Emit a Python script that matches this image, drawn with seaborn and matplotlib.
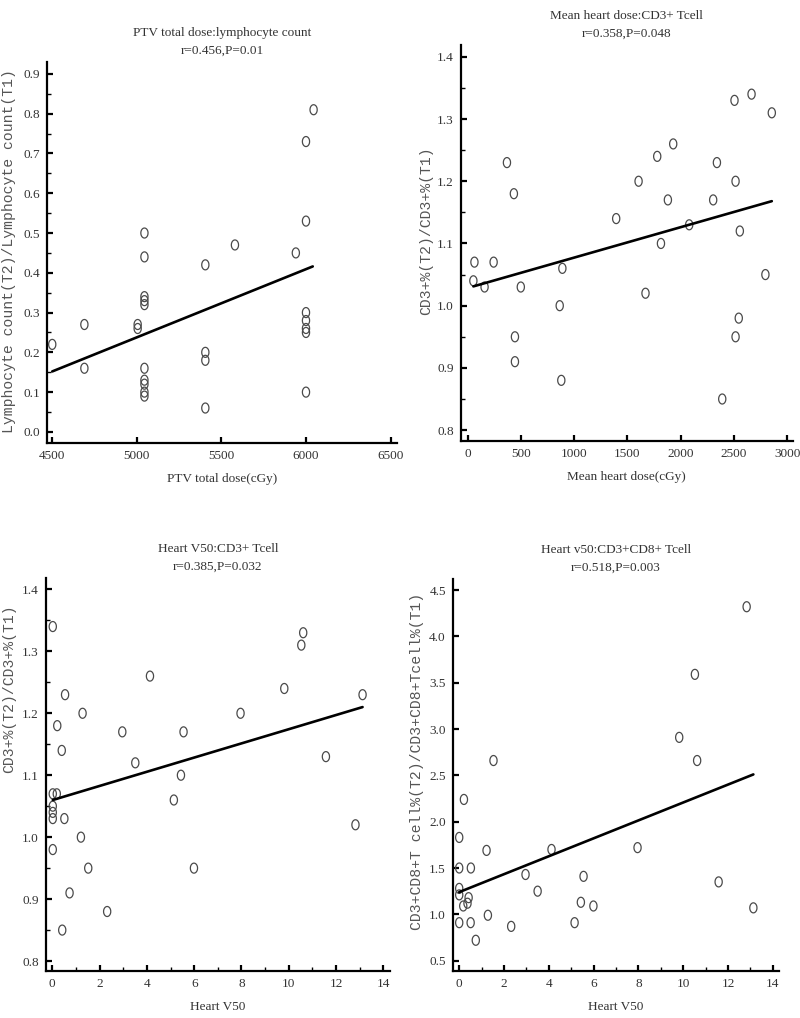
import numpy as np
import matplotlib
matplotlib.use('Agg')
import matplotlib.pyplot as plt
from matplotlib.ticker import MultipleLocator
import seaborn as sns

# ── Data ──────────────────────────────────────────────────────────────────────

# A. PTV total dose vs lymphocyte count ratio
ptv_dose  = [4500, 4690, 4690, 5005, 5005,
             5045, 5045, 5045, 5045, 5045, 5045, 5045, 5045, 5045, 5045,
             5405, 5405, 5405, 5405, 5580, 5940,
             6000, 6000, 6000, 6000, 6000, 6000, 6000, 6045]
ptv_lymph = [0.22, 0.27, 0.16, 0.27, 0.26,
             0.50, 0.44, 0.34, 0.33, 0.32, 0.16, 0.13, 0.12, 0.10, 0.09,
             0.42, 0.20, 0.18, 0.06, 0.47, 0.45,
             0.73, 0.53, 0.30, 0.28, 0.26, 0.25, 0.10, 0.81]
ptv_fit_x = [4500, 6040]
ptv_fit_y = [0.152, 0.416]

# B. Mean heart dose vs CD3+ ratio
mhd_dose = [370, 435, 1395, 1605, 1780, 1880, 1930, 1815, 2080, 2305, 2340,
            2505, 2515, 2555, 2665, 2855, 65, 55, 160, 245, 500, 890, 865,
            445, 445, 880, 1670, 2390, 2515, 2545, 2795]
mhd_cd3  = [1.23, 1.18, 1.14, 1.20, 1.24, 1.17, 1.26, 1.10, 1.13, 1.17, 1.23,
            1.33, 1.20, 1.12, 1.34, 1.31, 1.07, 1.04, 1.03, 1.07, 1.03, 1.06,
            1.00, 0.95, 0.91, 0.88, 1.02, 0.85, 0.95, 0.98, 1.05]
mhd_fit_x = [55, 2855]
mhd_fit_y = [1.031, 1.168]

# C. Heart V50 vs CD3+ ratio
v50_a     = [0.02, 0.54, 0.21, 0.40, 1.28, 4.13, 2.96, 5.55, 7.96, 9.81, 10.53,
             10.61, 13.12, 11.57, 3.51, 5.44, 5.14, 0.02, 0.19, 0.02, 0.02,
             0.02, 0.51, 0.02, 1.21, 1.52, 5.99, 0.73, 2.32, 0.42, 12.82]
v50_cd3   = [1.34, 1.23, 1.18, 1.14, 1.20, 1.26, 1.17, 1.17, 1.20, 1.24, 1.31,
             1.33, 1.23, 1.13, 1.12, 1.10, 1.06, 1.07, 1.07, 1.05, 1.04,
             1.03, 1.03, 0.98, 1.00, 0.95, 0.95, 0.91, 0.88, 0.85, 1.02]
v50_cd3_fit_x = [0.02, 13.12]
v50_cd3_fit_y = [1.06, 1.21]

# D. Heart V50 vs CD3+CD8+ ratio
v50_b     = [12.83, 10.52, 9.82, 10.62, 1.53, 0.21, 0.0, 1.22, 4.12, 7.96,
             0.0, 0.52, 2.96, 5.55, 11.58, 0.0, 0.0, 3.50, 0.42, 0.37,
             0.18, 5.43, 5.99, 13.13, 1.28, 0.0, 0.51, 5.15, 2.32, 0.74]
v50_cd8   = [4.32, 3.59, 2.91, 2.66, 2.66, 2.24, 1.83, 1.69, 1.70, 1.72,
             1.50, 1.50, 1.43, 1.41, 1.35, 1.28, 1.21, 1.25, 1.18, 1.12,
             1.09, 1.13, 1.09, 1.07, 0.99, 0.91, 0.91, 0.91, 0.87, 0.72]
v50_cd8_fit_x = [0.0, 13.13]
v50_cd8_fit_y = [1.24, 2.51]

# ── Style ─────────────────────────────────────────────────────────────────────

sns.set_theme(style='ticks')
plt.rcParams['font.family'] = ['Liberation Serif', 'DejaVu Serif']

TXT   = '#333333'
PTS   = '#4a4a4a'
t     = np.linspace(0, 2 * np.pi, 41)
OVAL  = np.column_stack([0.72 * np.cos(t), np.sin(t)])   # tall "O" marker

fig = plt.figure(figsize=(8, 10.18), dpi=100)

panels = [
    dict(rect=[0.05875, 0.5648, 0.4375, 0.3743],
         x=ptv_dose, y=ptv_lymph, fx=ptv_fit_x, fy=ptv_fit_y,
         xlim=(4469, 6538), ylim=(-0.028, 0.93),
         xmaj=500, xmin=None, ymaj=0.1, ymin=0.05,
         title='PTV total dose:lymphocyte count\nr=0.456,P=0.01',
         xlabel='PTV total dose(cGy)',
         ylabel='Lymphocyte count(T2)/Lymphocyte count(T1)',
         ylab_xy=(-0.088, 0.505)),
    dict(rect=[0.576, 0.5671, 0.415, 0.3887],
         x=mhd_dose, y=mhd_cd3, fx=mhd_fit_x, fy=mhd_fit_y,
         xlim=(-63, 3052), ylim=(0.783, 1.419),
         xmaj=500, xmin=None, ymaj=0.1, ymin=0.05,
         title='Mean heart dose:CD3+ Tcell\nr=0.358,P=0.048',
         xlabel='Mean heart dose(cGy)',
         ylabel='CD3+%(T2)/CD3+%(T1)',
         ylab_xy=(-0.084, 0.53)),
    dict(rect=[0.0571, 0.0462, 0.4304, 0.3858],
         x=v50_a, y=v50_cd3, fx=v50_cd3_fit_x, fy=v50_cd3_fit_y,
         xlim=(-0.28, 14.28), ylim=(0.784, 1.418),
         xmaj=2, xmin=1, ymaj=0.1, ymin=0.05,
         title='Heart V50:CD3+ Tcell\nr=0.385,P=0.032',
         xlabel='Heart V50',
         ylabel='CD3+%(T2)/CD3+%(T1)',
         ylab_xy=(-0.086, 0.72)),
    dict(rect=[0.5659, 0.0465, 0.4083, 0.3848],
         x=v50_b, y=v50_cd8, fx=v50_cd8_fit_x, fy=v50_cd8_fit_y,
         xlim=(-0.29, 14.29), ylim=(0.392, 4.62),
         xmaj=2, xmin=1, ymaj=0.5, ymin=None,
         title='Heart v50:CD3+CD8+ Tcell\nr=0.518,P=0.003',
         xlabel='Heart V50',
         ylabel='CD3+CD8+T cell%(T2)/CD3+CD8+Tcell%(T1)',
         ylab_xy=(-0.088, 0.535)),
]

for p in panels:
    ax = fig.add_axes(p['rect'])

    sns.scatterplot(x=p['x'], y=p['y'], ax=ax, marker=OVAL, s=52,
                    facecolors='none', edgecolor=PTS, linewidth=0.9,
                    legend=False)
    sns.lineplot(x=p['fx'], y=p['fy'], ax=ax, color='black',
                 linewidth=1.9, legend=False)

    ax.set_xlim(*p['xlim'])
    ax.set_ylim(*p['ylim'])
    ax.xaxis.set_major_locator(MultipleLocator(p['xmaj']))
    ax.yaxis.set_major_locator(MultipleLocator(p['ymaj']))
    if p['xmin']:
        ax.xaxis.set_minor_locator(MultipleLocator(p['xmin']))
    if p['ymin']:
        ax.yaxis.set_minor_locator(MultipleLocator(p['ymin']))
    ax.yaxis.set_major_formatter(lambda v, pos: f'{v:.1f}')
    ax.xaxis.set_major_formatter(lambda v, pos: f'{v:g}')

    sns.despine(ax=ax)
    for s in ('left', 'bottom'):
        ax.spines[s].set_linewidth(1.6)
        ax.spines[s].set_color('black')

    ax.tick_params(which='major', direction='in', length=4.5, width=1.6,
                   color='black', labelsize=9.5, labelcolor=TXT, pad=5)
    ax.tick_params(which='minor', direction='in', length=3, width=1.0,
                   color='black')
    ax.tick_params(axis='x', which='both', top=False)
    ax.tick_params(axis='y', which='both', right=False)

    ax.set_title(p['title'], fontsize=9.5, color=TXT, pad=6,
                 linespacing=1.6)
    ax.set_xlabel(p['xlabel'], fontsize=9.5, color=TXT, labelpad=8)
    ax.set_ylabel(p['ylabel'], fontsize=10.6, color='#555555',
                  family='Liberation Mono')
    ax.yaxis.set_label_coords(*p['ylab_xy'])
    ax.grid(False)
    ax.set_facecolor('white')

fig.savefig('out.png', dpi=100, facecolor='white')
